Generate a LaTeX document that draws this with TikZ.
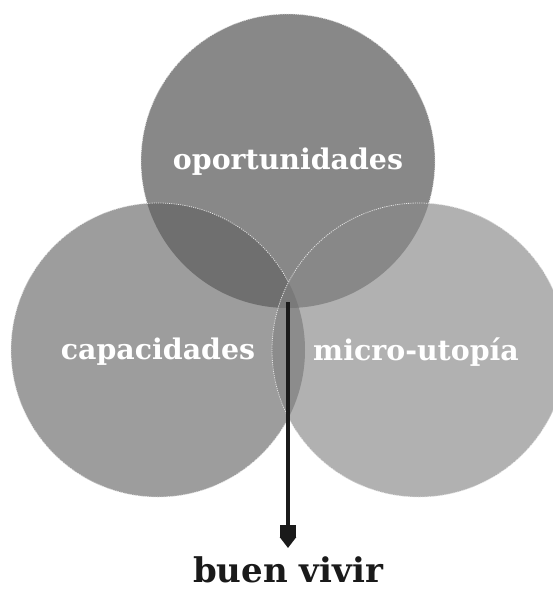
\documentclass[tikz,border=0pt]{standalone}
\usepackage{xcolor}
\usepackage{fontspec}
\usepackage{tikz}
\usetikzlibrary{arrows.meta}
\newfontfamily\slabfont{DejaVu Serif}

\definecolor{topgray}{HTML}{888888}
\definecolor{leftgray}{HTML}{9D9D9D}
\definecolor{rightgray}{HTML}{B1B1B1}
\definecolor{tlgray}{HTML}{6F6F6F}
\definecolor{lrgray}{HTML}{8C8C8C}
\definecolor{tlrgray}{HTML}{7A7A7A}
\definecolor{inkgray}{HTML}{1A1A1A}

\tikzset{
  rim/.style={white!80!gray, line width=0.8pt, dash pattern=on 1pt off 1.2pt},
  circlabel/.style={text=white, font=\slabfont\bfseries\fontsize{28.4}{32}\selectfont},
  endlabel/.style={text=inkgray, font=\slabfont\bfseries\fontsize{34}{38}\selectfont,
    anchor=base, inner sep=0pt}
}

\begin{document}
\begin{tikzpicture}[x=1pt, y=-1pt]
  \useasboundingbox (0,0) rectangle (553,590);

  \def\toppath{(288,161) circle[radius=147]}
  \def\leftpath{(158,350) circle[radius=147]}
  \def\rightpath{(419,350) circle[radius=147]}

  \fill[topgray] \toppath;
  \draw[rim] \toppath;

  \fill[leftgray] \leftpath;
  \begin{scope}
    \clip \toppath;
    \fill[tlgray] \leftpath;
  \end{scope}
  \draw[rim] \leftpath;

  \fill[rightgray] \rightpath;
  \begin{scope}
    \clip \leftpath;
    \fill[lrgray] \rightpath;
  \end{scope}
  \begin{scope}
    \clip \toppath;
    \fill[topgray] \rightpath;
    \clip \leftpath;
    \fill[tlrgray] \rightpath;
  \end{scope}
  \draw[rim] \rightpath;

  \node[circlabel] (oport) at (288,162) {oportunidades};
  \node[circlabel] (capac) at (158,352) {capacidades};
  \node[circlabel] (micro) at (416,352) {micro-utopía};

  \node[endlabel] (buen) at (288,582) {buen vivir};
  \coordinate (start) at (288,302);
  \draw[inkgray, line width=4pt,
        -{Rectangle[length=12pt,width=16pt]Triangle[length=11pt,width=16pt]}]
    (start) -- (288,548);
\end{tikzpicture}
\end{document}
